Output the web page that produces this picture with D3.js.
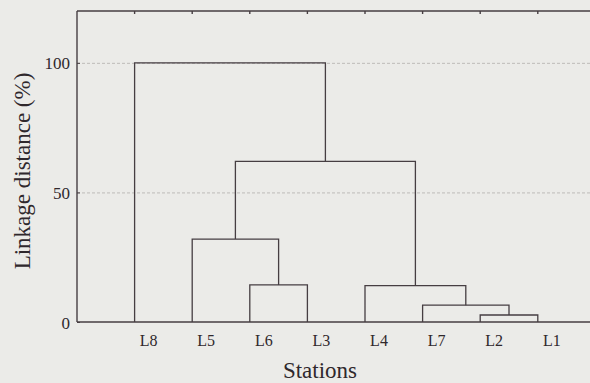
<!DOCTYPE html>
<html>
<head>
  <script type="text/javascript" src="https://cdn.jsdelivr.net/npm/d3@7"></script>
  <style>
  body { margin: 0; background: #ebebe8; }
  svg { display: block; }
  text { font-family: "Liberation Serif", "Times New Roman", serif; fill: #2f282c; }
  </style>
</head>
<body>

<script type="text/javascript">
// leaf order along the axis
var leaves = ["L8", "L5", "L6", "L3", "L4", "L7", "L2", "L1"];
// joins: [left, right, linkage distance %] - "cN" refers to join N
var joins = [
  ["L2", "L1", 2.7],
  ["L7", "c0", 6.5],
  ["L4", "c1", 14],
  ["L6", "L3", 14.3],
  ["L5", "c3", 32],
  ["c4", "c2", 62],
  ["L8", "c5", 100]
];
var yTicks = [0, 50, 100];

var W = 590, H = 383;
var svg = d3.select("body").append("svg").attr("width", W).attr("height", H);

var x = d3.scaleLinear().domain([0, leaves.length + 1]).range([77, 77 + 9 * 57.6]);
var y = d3.scaleLinear().domain([0, 120]).range([322, 11]);

var ink = "#463e42";

// grid lines
svg.selectAll("line.grid")
  .data(yTicks.filter(function(d) { return d > 0; }))
  .enter().append("line")
  .attr("x1", x(0)).attr("x2", W)
  .attr("y1", function(d) { return y(d) + 0.5; })
  .attr("y2", function(d) { return y(d) + 0.5; })
  .attr("stroke", "#bdbbb9")
  .attr("stroke-dasharray", "3,2")
  .attr("stroke-width", 1);

// frame
var frame = svg.append("g").attr("stroke", ink).attr("stroke-width", 1.4).attr("fill", "none");
frame.append("line").attr("x1", x(0)).attr("x2", W).attr("y1", y(120)).attr("y2", y(120));
frame.append("line").attr("x1", x(0)).attr("x2", x(0)).attr("y1", y(120)).attr("y2", y(0));
frame.append("line").attr("x1", x(0)).attr("x2", W).attr("y1", y(0)).attr("y2", y(0));

// top ticks at leaf positions
frame.selectAll("line.tt")
  .data(leaves)
  .enter().append("line")
  .attr("x1", function(d, i) { return x(i + 1); })
  .attr("x2", function(d, i) { return x(i + 1); })
  .attr("y1", y(120)).attr("y2", y(120) + 3);

// left axis
var yAxis = d3.axisLeft(y).tickValues(yTicks).tickSize(-3).tickPadding(7);
var ga = svg.append("g").attr("transform", "translate(" + x(0) + ",0)").call(yAxis);
ga.select(".domain").remove();
ga.selectAll("line").attr("stroke", ink);
ga.selectAll("text").attr("font-size", 17).attr("dy", "0.36em");

// leaf labels (printed a little right of each stem)
svg.selectAll("text.leaf")
  .data(leaves)
  .enter().append("text")
  .attr("x", function(d, i) { return x(i + 1) + 14; })
  .attr("y", 346)
  .attr("text-anchor", "middle")
  .attr("font-size", 16)
  .text(function(d) { return d; });

// dendrogram
var pos = {};
leaves.forEach(function(d, i) { pos[d] = { x: x(i + 1), h: 0 }; });
var links = svg.append("g").attr("stroke", ink).attr("stroke-width", 1.3).attr("fill", "none");
joins.forEach(function(j, i) {
  var a = pos[j[0]], b = pos[j[1]], h = j[2];
  links.append("path")
    .attr("d", "M" + a.x + "," + y(a.h) + "V" + y(h) + "H" + b.x + "V" + y(b.h));
  pos["c" + i] = { x: (a.x + b.x) / 2, h: h };
});

// titles
svg.append("text")
  .attr("x", 320).attr("y", 378)
  .attr("text-anchor", "middle")
  .attr("font-size", 23)
  .text("Stations");

svg.append("text")
  .attr("transform", "translate(30,171) rotate(-90)")
  .attr("text-anchor", "middle")
  .attr("font-size", 23)
  .text("Linkage distance (%)");
</script>

</body>
</html>
